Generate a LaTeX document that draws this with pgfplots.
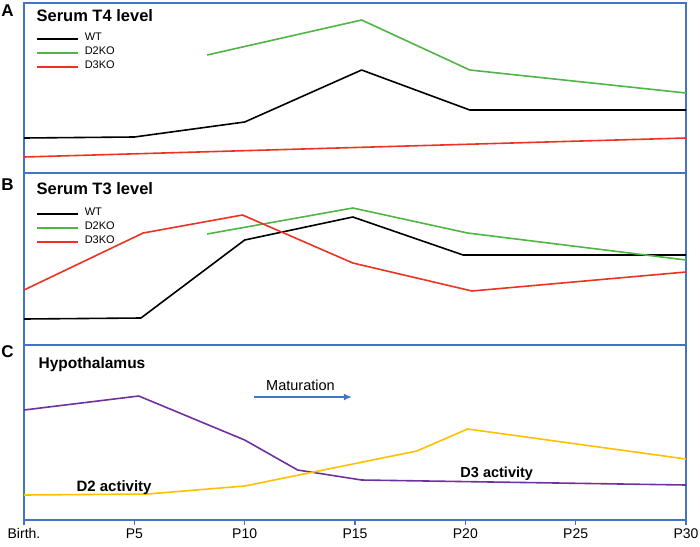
\documentclass[border=0pt]{standalone}
\usepackage{pgfplots}
\pgfplotsset{compat=1.18}
\usetikzlibrary{arrows.meta}
\usepackage{fontspec}
\setmainfont{Liberation Sans}

\definecolor{frameblue}{RGB}{68,114,196}
\definecolor{kogreen}{RGB}{80,180,70}
\definecolor{kored}{RGB}{235,50,35}
\definecolor{d3purple}{RGB}{112,48,160}
\definecolor{d2yellow}{RGB}{255,192,0}
\definecolor{arrowblue}{RGB}{60,120,200}

\newcommand\titlefont{\bfseries\fontsize{16.5}{16.5}\selectfont}
\newcommand\letterfont{\bfseries\fontsize{17}{17}\selectfont}

\pgfplotsset{
  panel/.style={
    scale only axis, width=662pt, xmin=0, xmax=30, ymin=0,
    axis line style={frameblue, line width=1.6pt},
    xtick=\empty, ytick=\empty, clip=false,
    legend cell align=left,
    legend image code/.code={\draw[##1] (0pt,0pt) -- (41pt,0pt);},
    legend style={draw=none, fill=none, anchor=north west,
      font=\fontsize{11}{11}\selectfont,
      nodes={inner sep=0pt, text height=8pt, text depth=6pt},
      column sep=6pt},
    every axis plot/.append style={line width=1.6pt, line join=round},
  },
}

\begin{document}
\begin{tikzpicture}
\path[use as bounding box] (0pt,0pt) rectangle (700pt,-546pt);

% A: serum T4
\begin{axis}[panel, at={(24pt,-3pt)}, anchor=north west, height=170pt, ymax=170,
    legend style={at={(rel axis cs:0.0136,0.841)}}]
\addplot[black] coordinates {(0,35)(5,36)(10,51)(15.3,103)(20.2,63)(30,63)};
\addlegendentry{WT}
\addplot[kogreen] coordinates {(8.3,118)(15.3,153)(20.2,103)(30,80)};
\addlegendentry{D2KO}
\addplot[kored] coordinates {(0,16)(30,35)};
\addlegendentry{D3KO}
\node[anchor=base west, font=\titlefont] at (axis cs:0.41,152) {Serum T4 level};
\node[anchor=base, font=\letterfont] at (rel axis cs:-0.025,0.918) {A};
\end{axis}

% B: serum T3
\begin{axis}[panel, at={(24pt,-173pt)}, anchor=north west, height=172pt, ymax=172,
    legend style={at={(rel axis cs:0.0136,0.814)}}]
\addplot[black] coordinates {(0,26)(5.3,27)(10,105)(14.9,128)(19.9,90)(30,90)};
\addlegendentry{WT}
\addplot[kogreen] coordinates {(8.3,111)(14.9,137)(20.1,112)(30,85)};
\addlegendentry{D2KO}
\addplot[kored] coordinates {(0,55)(5.4,112)(9.9,130)(14.9,82)(20.3,54)(30,73)};
\addlegendentry{D3KO}
\node[anchor=base west, font=\titlefont] at (axis cs:0.41,151) {Serum T3 level};
\node[anchor=base, font=\letterfont] at (rel axis cs:-0.025,0.90) {B};
\end{axis}

% C: hypothalamus
\begin{axis}[panel, at={(24pt,-345pt)}, anchor=north west, height=175pt, ymax=175,
    xtick={0,5,10,15,20,25,30},
    xticklabels={Birth.,P5,P10,P15,P20,P25,P30},
    xtick pos=bottom, tick align=outside, major tick length=5pt,
    tick style={frameblue, line width=1.6pt},
    xticklabel style={font=\fontsize{14}{14}\selectfont, text height=10pt},
    /pgf/number format/assume math mode=true]
\addplot[d3purple] coordinates {(0,110)(5.2,124)(10,80)(12.4,50)(15.3,40)(30,35)};
\addplot[d2yellow] coordinates {(0,25)(5.6,26)(10,34)(17.8,69)(20.1,91)(30,61)};
\node[anchor=base west, font=\bfseries\fontsize{15.5}{15.5}\selectfont] at (axis cs:0.5,152) {Hypothalamus};
\node[anchor=base, font=\fontsize{14.5}{14.5}\selectfont] at (axis cs:12.53,130) {Maturation};
\draw[arrowblue, line width=1.6pt, -{Latex[length=8pt,width=7pt]}] (axis cs:10.42,123) -- (axis cs:14.86,123);
\node[anchor=base west, font=\bfseries\fontsize{15}{15}\selectfont] at (axis cs:2.22,29) {D2 activity};
\node[anchor=base west, font=\bfseries\fontsize{14.5}{14.5}\selectfont] at (axis cs:19.62,43) {D3 activity};
\node[anchor=base, font=\letterfont] at (rel axis cs:-0.025,0.926) {C};
\end{axis}
\end{tikzpicture}
\end{document}
